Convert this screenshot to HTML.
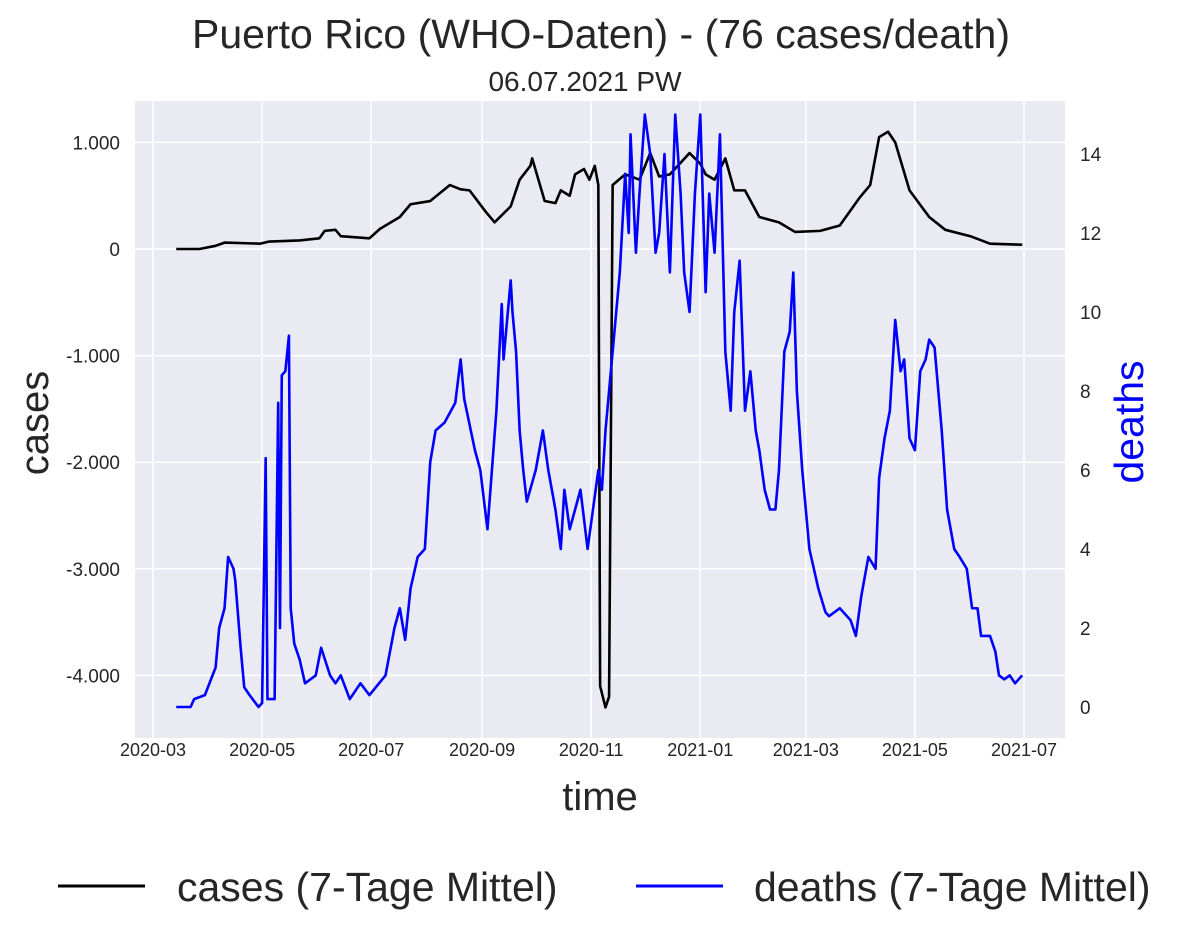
<!DOCTYPE html>
<html><head><meta charset="utf-8">
<style>
body{margin:0;background:#fff;font-family:"Liberation Sans",Arial,sans-serif;}
svg text{font-family:"Liberation Sans",Arial,sans-serif;}
</style></head>
<body>
<svg id="chart" width="1188" height="941" xmlns="http://www.w3.org/2000/svg">
<text x="601" y="48" font-size="41" text-anchor="middle" fill="#262626">Puerto Rico (WHO-Daten) - (76 cases/death)</text>
<text x="585" y="91" font-size="28" text-anchor="middle" fill="#262626">06.07.2021 PW</text>
<rect x="135" y="101" width="930" height="637" fill="#EAEAF2"/>
<g id="grid"></g>
<g id="series"></g>
<g id="ticks"></g>
<text transform="translate(48,423) rotate(-90)" font-size="40" text-anchor="middle" fill="#262626">cases</text>
<text transform="translate(1143,422) rotate(-90)" font-size="41" text-anchor="middle" fill="#0000ff">deaths</text>
<text x="600" y="810" font-size="40" text-anchor="middle" fill="#262626">time</text>
<g>
<line x1="58" y1="886" x2="145" y2="886" stroke="#000" stroke-width="3"/>
<text x="177" y="901" font-size="41" fill="#262626">cases (7-Tage Mittel)</text>
<line x1="636" y1="886" x2="723" y2="886" stroke="#0000ff" stroke-width="3"/>
<text x="754" y="901" font-size="41" fill="#262626">deaths (7-Tage Mittel)</text>
</g>
</svg>
<script>
// days since 2020-03-01
const caseDays=[13,26,35,40,60,65,82,93,96,102,105,121,127,138,144,155,166,172,177,186,191,200,205,211,212,219,225,228,233,236,241,244,247,249,250,253,255,257,264,272,278,283,289,300,306,309,314,320,325,331,339,350,359,373,384,395,401,406,411,415,423,434,443,457,468,486];
const caseValues=[0,0,30,60,50,70,80,100,170,180,120,100,190,300,420,450,600,560,550,350,250,400,650,780,850,450,430,550,500,700,750,650,780,600,-4100,-4300,-4200,600,700,650,900,680,700,900,800,700,650,850,550,550,300,250,160,170,220,480,600,1050,1100,1000,550,300,180,120,50,40];
const deathDays=[13,21,23,29,35,37,40,42,45,46,49,51,54,59,61,63,64,68,70,71,72,74,76,77,79,82,85,91,94,99,102,105,110,116,121,130,135,138,141,144,148,152,155,158,163,169,172,174,180,183,187,192,194,195,196,200,201,203,205,207,209,214,218,221,225,228,230,233,239,243,246,249,251,253,255,258,261,264,266,267,270,272,275,278,281,283,286,289,292,295,297,300,303,306,309,311,314,317,320,323,325,328,331,334,337,339,342,345,348,350,353,356,358,360,363,367,372,376,378,384,390,393,396,400,404,406,409,412,415,418,420,423,426,429,432,434,437,441,444,448,451,455,458,461,463,468,471,473,476,479,482,486];
const deathValues=[0,0,0.2,0.3,1.0,2.0,2.5,3.8,3.5,3.2,1.5,0.5,0.3,0,0.1,6.3,0.2,0.2,7.7,2,8.4,8.5,9.4,2.5,1.6,1.2,0.6,0.8,1.5,0.8,0.6,0.8,0.2,0.6,0.3,0.8,2,2.5,1.7,3,3.8,4,6.2,7,7.2,7.7,8.8,7.8,6.5,6,4.5,7.5,9.3,10.2,8.8,10.8,10,9,7,6,5.2,6,7,6,5,4,5.5,4.5,5.5,4,5,6,5.5,7,8,9.5,11,13.5,12,14.5,11.5,13,15,14,11.5,12,14,11,15,13,11,10,13,15,10.5,13,11.5,14.5,9,7.5,10,11.3,7.5,8.5,7,6.5,5.5,5,5,6,9,9.5,11,8,6,4,3,2.4,2.3,2.5,2.2,1.8,2.8,3.8,3.5,5.8,6.8,7.5,9.8,8.5,8.8,6.8,6.5,8.5,8.8,9.3,9.1,7,5,4,3.8,3.5,2.5,2.5,1.8,1.8,1.4,0.8,0.7,0.8,0.6,0.8];
const xTickDays=[0,61,122,184,245,306,365,426,487];
const xTickLabels=["2020-03","2020-05","2020-07","2020-09","2020-11","2021-01","2021-03","2021-05","2021-07"];
const caseTicks=[1000,0,-1000,-2000,-3000,-4000];
const caseTickLabels=["1.000","0","-1.000","-2.000","-3.000","-4.000"];
const deathTicks=[0,2,4,6,8,10,12,14];

const NS="http://www.w3.org/2000/svg";
const xS=d=>153+d*(871/487);
const yC=v=>249-v*0.1066;
const yD=v=>707-v*39.5;
function mk(tag,attrs,parent){const e=document.createElementNS(NS,tag);for(const k in attrs)e.setAttribute(k,attrs[k]);parent.appendChild(e);return e;}
const grid=document.getElementById('grid'),ticks=document.getElementById('ticks'),series=document.getElementById('series');
xTickDays.forEach((d,i)=>{
  const l=mk('line',{x1:xS(d),x2:xS(d),y1:101,y2:738,stroke:'#fff','stroke-width':1.5},grid);
  
  
  const t=mk('text',{x:xS(d),y:756,'font-size':18,'text-anchor':'middle',fill:'#262626'},ticks);
  t.textContent=xTickLabels[i];
  
  
});
caseTicks.forEach((v,i)=>{
  const l=mk('line',{x1:135,x2:1065,y1:yC(v),y2:yC(v),stroke:'#fff','stroke-width':1.5},grid);
  
  
  const t=mk('text',{x:120,y:yC(v)+7,'font-size':19,'text-anchor':'end',fill:'#262626'},ticks);
  t.textContent=caseTickLabels[i];
  
  
});
deathTicks.forEach(v=>{
  const t=mk('text',{x:1080,y:yD(v)+7,'font-size':19,fill:'#262626'},ticks);
  t.textContent=String(v);
  
  
});
const pc=mk('polyline',{points:caseDays.map((d,i)=>xS(d)+','+yC(caseValues[i])).join(' '),fill:'none',stroke:'#000','stroke-width':2.6,'stroke-linejoin':'round'},series);


const pd=mk('polyline',{points:deathDays.map((d,i)=>xS(d)+','+yD(deathValues[i])).join(' '),fill:'none',stroke:'#0000ff','stroke-width':2.6,'stroke-linejoin':'round'},series);


</script>
</body></html>
